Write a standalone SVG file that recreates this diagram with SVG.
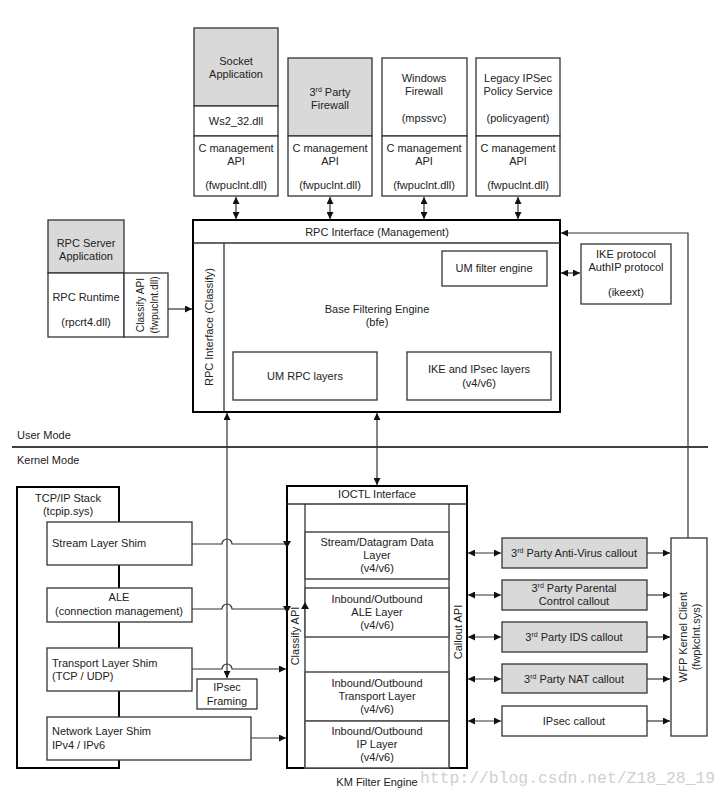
<svg xmlns="http://www.w3.org/2000/svg" width="722" height="795" viewBox="0 0 722 795">
<style>
text{font-family:"Liberation Sans",Arial,sans-serif;font-size:11px;fill:#222;text-anchor:middle}
.l{text-anchor:start}
.box{fill:#fff;stroke:#333;stroke-width:1.3}
.gray{fill:#d9d9d9;stroke:#333;stroke-width:1.3}
.big{fill:#fff;stroke:#000;stroke-width:2}
.sep{fill:none;stroke:#333;stroke-width:1.3}
.layer{fill:#fff;stroke:#555;stroke-width:1.6}
.c{fill:none;stroke:#333;stroke-width:1.2}
.wm{font-family:"Liberation Mono","DejaVu Sans Mono",monospace;font-size:16.4px;fill:#d0d0d0;text-anchor:start}
</style>
<defs>
<marker id="a" viewBox="0 0 10 10" refX="10" refY="5" markerWidth="7" markerHeight="7" markerUnits="userSpaceOnUse" orient="auto-start-reverse">
<path d="M0,0 L10,5 L0,10 z" fill="#111"/>
</marker>
</defs>
<rect width="722" height="795" fill="#fff"/>

<!-- Top applications -->
<g id="socket">
<rect class="gray" x="194" y="28" width="84" height="78"/>
<rect class="box" x="194" y="106" width="84" height="30"/>
<rect class="box" x="194" y="136" width="84" height="60"/>
<text x="236" y="65">Socket</text>
<text x="236" y="78">Application</text>
<text x="236" y="125">Ws2_32.dll</text>
<text x="236" y="152">C management</text>
<text x="236" y="165">API</text>
<text x="236" y="189">(fwpuclnt.dll)</text>
</g>
<g id="thirdparty-fw">
<rect class="gray" x="288" y="58" width="84" height="78"/>
<rect class="box" x="288" y="136" width="84" height="60"/>
<text x="330" y="96">3<tspan font-size="7" dy="-4">rd</tspan><tspan dy="4"> Party</tspan></text>
<text x="330" y="109">Firewall</text>
<text x="330" y="152">C management</text>
<text x="330" y="165">API</text>
<text x="330" y="189">(fwpuclnt.dll)</text>
</g>
<g id="windows-fw">
<rect class="box" x="382" y="58" width="85" height="78"/>
<rect class="box" x="382" y="136" width="85" height="60"/>
<text x="424" y="82">Windows</text>
<text x="424" y="95">Firewall</text>
<text x="424" y="122">(mpssvc)</text>
<text x="424" y="152">C management</text>
<text x="424" y="165">API</text>
<text x="424" y="189">(fwpuclnt.dll)</text>
</g>
<g id="legacy-ipsec">
<rect class="box" x="476" y="58" width="84" height="78"/>
<rect class="box" x="476" y="136" width="84" height="60"/>
<text x="518" y="82">Legacy IPSec</text>
<text x="518" y="95">Policy Service</text>
<text x="518" y="122">(policyagent)</text>
<text x="518" y="152">C management</text>
<text x="518" y="165">API</text>
<text x="518" y="189">(fwpuclnt.dll)</text>
</g>

<!-- RPC server -->
<g id="rpc-server">
<rect class="gray" x="48" y="220" width="76" height="53"/>
<rect class="box" x="48" y="273" width="76" height="64"/>
<rect class="box" x="124" y="273" width="44" height="64"/>
<text x="86" y="247">RPC Server</text>
<text x="86" y="260">Application</text>
<text x="86" y="301">RPC Runtime</text>
<text x="86" y="326">(rpcrt4.dll)</text>
<text transform="translate(144,305) rotate(-90)" style="font-size:10.2px">Classify API</text>
<text transform="translate(158,305) rotate(-90)" style="font-size:10.2px">(fwpuclnt.dll)</text>
</g>

<!-- BFE -->
<g id="bfe">
<rect class="big" x="193" y="220" width="367" height="192"/>
<line class="sep" x1="193" y1="243" x2="560" y2="243"/>
<line class="sep" x1="224" y1="243" x2="224" y2="412"/>
<text x="377" y="236">RPC Interface (Management)</text>
<text transform="translate(213,327) rotate(-90)">RPC Interface (Classify)</text>
<text x="377" y="313">Base Filtering Engine</text>
<text x="377" y="326">(bfe)</text>
</g>
<g id="um-filter-engine">
<rect class="box" x="442" y="251" width="105" height="35"/>
<text x="494" y="272">UM filter engine</text>
</g>
<g id="um-rpc-layers">
<rect class="box" x="233" y="352" width="144" height="48"/>
<text x="305" y="380">UM RPC layers</text>
</g>
<g id="ike-ipsec-layers">
<rect class="box" x="407" y="352" width="144" height="48"/>
<text x="479" y="373">IKE and IPsec layers</text>
<text x="479" y="387">(v4/v6)</text>
</g>
<g id="ike-protocol">
<rect class="box" x="581" y="244" width="90" height="60"/>
<text x="626" y="258">IKE protocol</text>
<text x="626" y="271">AuthIP protocol</text>
<text x="626" y="296">(ikeext)</text>
</g>

<!-- Mode separator -->
<g id="mode">
<line x1="12" y1="447" x2="708" y2="447" stroke="#000" stroke-width="1.6"/>
<text class="l" x="17" y="439">User Mode</text>
<text class="l" x="17" y="464">Kernel Mode</text>
</g>

<!-- TCP/IP stack -->
<g id="tcpip-stack">
<rect class="big" x="17" y="487" width="102" height="281"/>
<text x="68" y="502">TCP/IP Stack</text>
<text x="68" y="515">(tcpip.sys)</text>
</g>
<g id="stream-shim">
<rect class="box" x="47" y="522" width="145" height="43"/>
<text class="l" x="52" y="547">Stream Layer Shim</text>
</g>
<g id="ale">
<rect class="box" x="47" y="588" width="145" height="34"/>
<text x="119" y="601">ALE</text>
<text x="119" y="615">(connection management)</text>
</g>
<g id="transport-shim">
<rect class="box" x="47" y="648" width="145" height="43"/>
<text class="l" x="52" y="667">Transport Layer Shim</text>
<text class="l" x="52" y="680">(TCP / UDP)</text>
</g>
<g id="ipsec-framing">
<rect class="box" x="197" y="679" width="60" height="30"/>
<text x="227" y="691">IPsec</text>
<text x="227" y="705">Framing</text>
</g>
<g id="network-shim">
<rect class="box" x="47" y="717" width="204" height="43"/>
<text class="l" x="52" y="735">Network Layer Shim</text>
<text class="l" x="52" y="749">IPv4 / IPv6</text>
</g>

<!-- KM filter engine -->
<g id="km-filter-engine">
<rect class="big" x="287" y="486" width="180" height="282"/>
<line class="sep" x1="287" y1="504" x2="467" y2="504"/>
<line class="sep" x1="305" y1="504" x2="305" y2="768"/>
<line class="sep" x1="449" y1="504" x2="449" y2="768"/>
<text x="377" y="498">IOCTL Interface</text>
<text transform="translate(299,636) rotate(-90)">Classify API</text>
<text transform="translate(462,632) rotate(-90)">Callout API</text>
<text x="377" y="786">KM Filter Engine</text>
</g>
<g id="stream-datagram-layer">
<rect class="layer" x="305" y="532" width="144" height="47"/>
<text x="377" y="546">Stream/Datagram Data</text>
<text x="377" y="559">Layer</text>
<text x="377" y="572">(v4/v6)</text>
</g>
<g id="ale-layer">
<rect class="layer" x="305" y="588" width="144" height="49"/>
<text x="377" y="603">Inbound/Outbound</text>
<text x="377" y="616">ALE Layer</text>
<text x="377" y="629">(v4/v6)</text>
</g>
<g id="transport-layer">
<rect class="layer" x="305" y="672" width="144" height="49"/>
<text x="377" y="687">Inbound/Outbound</text>
<text x="377" y="700">Transport Layer</text>
<text x="377" y="713">(v4/v6)</text>
</g>
<g id="ip-layer">
<rect class="layer" x="305" y="721" width="144" height="47"/>
<text x="377" y="735">Inbound/Outbound</text>
<text x="377" y="748">IP Layer</text>
<text x="377" y="761">(v4/v6)</text>
</g>

<!-- Callouts -->
<g id="av-callout">
<rect class="gray" x="502" y="538" width="145" height="30"/>
<text x="574" y="557">3<tspan font-size="7" dy="-4">rd</tspan><tspan dy="4"> Party Anti-Virus callout</tspan></text>
</g>
<g id="parental-callout">
<rect class="gray" x="502" y="580" width="145" height="30"/>
<text x="574" y="592">3<tspan font-size="7" dy="-4">rd</tspan><tspan dy="4"> Party Parental</tspan></text>
<text x="574" y="605">Control callout</text>
</g>
<g id="ids-callout">
<rect class="gray" x="502" y="622" width="145" height="30"/>
<text x="574" y="641">3<tspan font-size="7" dy="-4">rd</tspan><tspan dy="4"> Party IDS callout</tspan></text>
</g>
<g id="nat-callout">
<rect class="gray" x="502" y="664" width="145" height="29"/>
<text x="574" y="683">3<tspan font-size="7" dy="-4">rd</tspan><tspan dy="4"> Party NAT callout</tspan></text>
</g>
<g id="ipsec-callout">
<rect class="box" x="502" y="706" width="145" height="30"/>
<text x="574" y="725">IPsec callout</text>
</g>
<g id="wfp-kernel-client">
<rect class="box" x="671" y="538" width="36" height="198"/>
<text transform="translate(687,637) rotate(-90)">WFP Kernel Client</text>
<text transform="translate(700,637) rotate(-90)">(fwpkclnt.sys)</text>
</g>

<!-- Connectors -->
<g id="connectors">
<line class="c" x1="236" y1="197" x2="236" y2="219" marker-start="url(#a)" marker-end="url(#a)"/>
<line class="c" x1="330" y1="197" x2="330" y2="219" marker-start="url(#a)" marker-end="url(#a)"/>
<line class="c" x1="424" y1="197" x2="424" y2="219" marker-start="url(#a)" marker-end="url(#a)"/>
<line class="c" x1="518" y1="197" x2="518" y2="219" marker-start="url(#a)" marker-end="url(#a)"/>
<line class="c" x1="168" y1="309" x2="192" y2="309" marker-end="url(#a)"/>
<line class="c" x1="561" y1="273" x2="580" y2="273" marker-start="url(#a)" marker-end="url(#a)"/>
<path class="c" d="M688,538 V233 H561" marker-end="url(#a)"/>
<line class="c" x1="377" y1="413" x2="377" y2="485" marker-start="url(#a)" marker-end="url(#a)"/>
<line class="c" x1="227" y1="413" x2="227" y2="678" marker-start="url(#a)" marker-end="url(#a)"/>
<path class="c" d="M192,544 H222 a5,5 0 0 1 10,0 H287"/>
<path d="M283,541 L291,541 L287,548 z" fill="#111"/>
<path class="c" d="M192,609 H222 a5,5 0 0 1 10,0 H287"/>
<path d="M283,606 L291,606 L287,613 z" fill="#111"/>
<path d="M301,609 L309,609 L305,602 z" fill="#111"/>
<path class="c" d="M192,669 H222 a5,5 0 0 1 10,0 H286" marker-end="url(#a)"/>
<line class="c" x1="251" y1="738" x2="286" y2="738" marker-end="url(#a)"/>
<line class="c" x1="468" y1="553" x2="501" y2="553" marker-start="url(#a)" marker-end="url(#a)"/>
<line class="c" x1="468" y1="595" x2="501" y2="595" marker-start="url(#a)" marker-end="url(#a)"/>
<line class="c" x1="468" y1="637" x2="501" y2="637" marker-start="url(#a)" marker-end="url(#a)"/>
<line class="c" x1="468" y1="679" x2="501" y2="679" marker-start="url(#a)" marker-end="url(#a)"/>
<line class="c" x1="468" y1="721" x2="501" y2="721" marker-start="url(#a)" marker-end="url(#a)"/>
<line class="c" x1="647" y1="553" x2="670" y2="553" marker-end="url(#a)"/>
<line class="c" x1="647" y1="595" x2="670" y2="595" marker-end="url(#a)"/>
<line class="c" x1="647" y1="637" x2="670" y2="637" marker-end="url(#a)"/>
<line class="c" x1="647" y1="679" x2="670" y2="679" marker-end="url(#a)"/>
<line class="c" x1="647" y1="721" x2="670" y2="721" marker-end="url(#a)"/>
</g>

<text class="wm" x="420" y="783">http://blog.csdn.net/Z18_28_19</text>
</svg>
